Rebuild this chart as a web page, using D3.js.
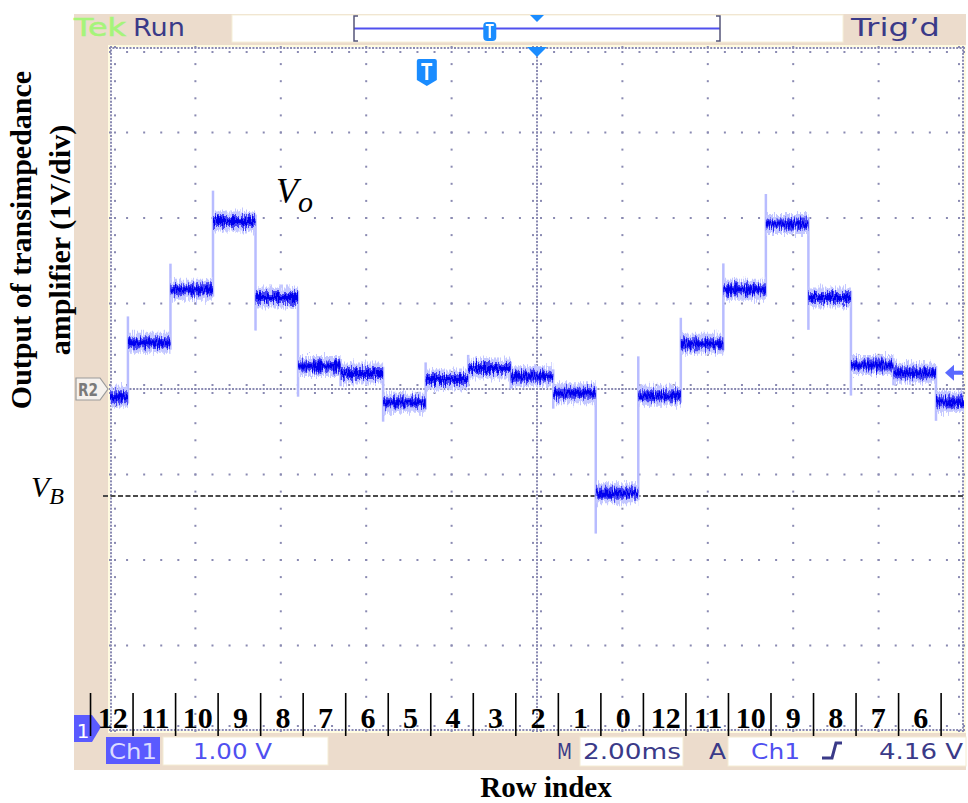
<!DOCTYPE html>
<html><head><meta charset="utf-8">
<script src="https://cdn.jsdelivr.net/npm/d3@7"></script>
<style>html,body{margin:0;padding:0;background:#fff}svg{display:block}</style>
</head><body>
<script>
// ---- acquisition settings ----
const timeDomainMs = [-10, 10];   // 10 div × 2.00 ms/div
const voltDomain = [-4, 4];       // 8 div × 1.00 V/div, relative to the R2 reference
const firstEdgeMs = -9.58;        // first row switch seen on screen
const rowPeriodMs = 0.996;        // one row per ~1 ms
const labelLagMs = 0.12;          // row-index separators trail the edges slightly

// ---- measured row levels (V relative to R2) ----
const rowIndex = [12, 11, 10, 9, 8, 7, 6, 5, 4, 3, 2, 1, 0, 12, 11, 10, 9, 8, 7, 6, 5];
const rowLevelV = [-0.09, 0.54, 1.16, 1.96, 1.07, 0.27, 0.18, -0.16, 0.11, 0.24, 0.15, -0.05,
                   -1.22, -0.08, 0.53, 1.16, 1.93, 1.07, 0.28, 0.19, -0.15];
const rowLabels = ["12", "11", "10", "9", "8", "7", "6", "5", "4", "3", "2", "1", "0",
                   "12", "11", "10", "9", "8", "7", "6"];
const biasLevelV = -1.25;         // V_B
const triggerLevelV = 0.19;       // trigger arrow on the right edge
const triggerMarkMs = -2.58;      // "T" marker position in the record

// ---- readout strings ----
const topLeftBrand = "Tek";
const topLeftState = "Run";
const topRightState = "Trig’d";
const chLabel = "Ch1";
const chScale = "1.00 V";
const timeLabel = "M";
const timeScale = "2.00ms";
const trigLabel = "A";
const trigSource = "Ch1";
const trigLevelText = "4.16 V";

const W = 968, H = 803;
const plot = {left: 110, right: 964, top: 47, bottom: 731};

const svg = d3.select("body").append("svg").attr("width", W).attr("height", H);
svg.append("rect").attr("width", W).attr("height", H).attr("fill", "#fff");

const x = d3.scaleLinear().domain(timeDomainMs).range([plot.left, plot.right]);
const y = d3.scaleLinear().domain(voltDomain).range([plot.bottom, plot.top]);

const defs = svg.append("defs");
defs.append("clipPath").attr("id", "plotClip").append("rect")
  .attr("x", plot.left).attr("y", plot.top)
  .attr("width", plot.right - plot.left).attr("height", plot.bottom - plot.top);

// vertical jitter texture for the noisy trace band
const f = defs.append("filter").attr("id", "jitter")
  .attr("x", "-2%").attr("y", "-200%").attr("width", "104%").attr("height", "500%")
  .attr("color-interpolation-filters", "sRGB");
f.append("feTurbulence").attr("type", "fractalNoise").attr("baseFrequency", "1.1 0.09")
  .attr("numOctaves", 2).attr("seed", 5).attr("result", "noise");
f.append("feColorMatrix").attr("in", "noise").attr("type", "matrix")
  .attr("values", "1 0 0 0 0  0 0 0 0 0.5  0 0 0 0 0  0 0 0 0 1").attr("result", "disp");
f.append("feDisplacementMap").attr("in", "SourceGraphic").attr("in2", "disp")
  .attr("scale", 14).attr("xChannelSelector", "G").attr("yChannelSelector", "R").attr("result", "moved");
f.append("feGaussianBlur").attr("in", "moved").attr("stdDeviation", "0.5 0.7");

// ---- instrument frame ----
const beige = "#ecdccc";
const ink = "#3a3a88";
const uiFont = "'DejaVu Sans', Verdana, sans-serif";
svg.append("rect").attr("x", 74).attr("y", 14).attr("width", 892).attr("height", 756).attr("fill", beige);
svg.append("rect").attr("x", plot.left - 2).attr("y", plot.top - 2)
  .attr("width", plot.right - plot.left + 4).attr("height", plot.bottom - plot.top + 4)
  .attr("fill", "#fffbe0");
svg.append("rect").attr("x", plot.left).attr("y", plot.top)
  .attr("width", plot.right - plot.left).attr("height", plot.bottom - plot.top).attr("fill", "#fff");

// top bar
svg.append("rect").attr("x", 232).attr("y", 15).attr("width", 611).attr("height", 27)
  .attr("fill", "#fff").attr("stroke", "#f6f0d8").attr("stroke-width", 1);
svg.append("text").attr("x", 74).attr("y", 36).attr("font-family", uiFont).attr("font-size", 25)
  .attr("fill", "#a6f47a").attr("stroke", "#a6f47a").attr("stroke-width", 0.6)
  .attr("textLength", 52).attr("lengthAdjust", "spacingAndGlyphs").text(topLeftBrand);
svg.append("text").attr("x", 133).attr("y", 36).attr("font-family", uiFont).attr("font-size", 25)
  .attr("fill", ink).attr("textLength", 52).attr("lengthAdjust", "spacingAndGlyphs").text(topLeftState);
svg.append("text").attr("x", 851).attr("y", 36).attr("font-family", uiFont).attr("font-size", 25)
  .attr("fill", ink).attr("textLength", 89).attr("lengthAdjust", "spacingAndGlyphs").text(topRightState);

// record view bar
const rec = d3.scaleLinear().domain(timeDomainMs).range([354, 720]);
svg.append("line").attr("x1", rec(-10)).attr("x2", rec(10)).attr("y1", 28.5).attr("y2", 28.5)
  .attr("stroke", "#5050ee").attr("stroke-width", 2);
svg.append("path").attr("d", `M${rec(-10) + 4},16 H${rec(-10)} V41 H${rec(-10) + 4}`)
  .attr("fill", "none").attr("stroke", "#55557a").attr("stroke-width", 1.5);
svg.append("path").attr("d", `M${rec(10) - 4},16 H${rec(10)} V41 H${rec(10) - 4}`)
  .attr("fill", "none").attr("stroke", "#55557a").attr("stroke-width", 1.5);
const tx = rec(triggerMarkMs);
svg.append("rect").attr("x", tx - 6.5).attr("y", 22).attr("width", 13).attr("height", 19).attr("rx", 4)
  .attr("fill", "#1a8cff");
svg.append("path").attr("d", `M${tx - 4},25 H${tx + 4} M${tx},25 V38`)
  .attr("stroke", "#fff").attr("stroke-width", 2.2).attr("fill", "none");
svg.append("path").attr("d", `M${x(0) - 7},15 L${x(0) + 7},15 L${x(0)},22 Z`).attr("fill", "#1a8cff");

// ---- graticule ----
const dot = "#8a8ab2";
const g = svg.append("g");
const dots = [];
const majorT = d3.range(-8, 9, 2).filter(t => t !== 0);
const majorV = d3.range(-3, 4, 1).filter(v => v !== 0);
const minorV = d3.range(-4, 4.001, 0.2);
const minorT = d3.range(-10, 10.001, 0.4);
majorT.forEach(t => minorV.forEach(v => dots.push([x(t), y(v)])));
majorV.forEach(v => minorT.forEach(t => dots.push([x(t), y(v)])));
// dense centre cross and border
const denseV = d3.range(-4, 4.001, 0.04);
const denseT = d3.range(-10, 10.001, 0.08);
denseV.forEach(v => dots.push([x(0), y(v)]));
denseT.forEach(t => dots.push([x(t), y(0)]));
denseV.forEach(v => { dots.push([x(-10) + 1, y(v)]); dots.push([x(10) - 1, y(v)]); });
denseT.forEach(t => { dots.push([x(t), y(4) + 1]); dots.push([x(t), y(-4) - 1]); });
// tick marks on centre cross and border
minorV.forEach(v => {
  [-4, 4].forEach(d => dots.push([x(0) + d, y(v)]));
  dots.push([x(-10) + 5, y(v)]); dots.push([x(10) - 5, y(v)]);
});
minorT.forEach(t => {
  [-4, 4].forEach(d => dots.push([x(t), y(0) + d]));
  dots.push([x(t), y(4) + 5]); dots.push([x(t), y(-4) - 5]);
});
g.selectAll("rect.d").data(dots).join("rect").attr("class", "d")
  .attr("x", d => d[0] - 1).attr("y", d => d[1] - 1).attr("width", 2).attr("height", 2)
  .attr("fill", dot);

// ---- V_B dashed level ----
svg.append("line").attr("x1", plot.left - 7).attr("x2", plot.right).attr("y1", y(biasLevelV)).attr("y2", y(biasLevelV))
  .attr("stroke", "#4a4a4a").attr("stroke-width", 2).attr("stroke-dasharray", "5,2.5");

// ---- trace ----
const rows = rowLevelV.map((v, i) => ({
  idx: rowIndex[i], v,
  t0: Math.max(timeDomainMs[0], firstEdgeMs + (i - 1) * rowPeriodMs),
  t1: Math.min(timeDomainMs[1], firstEdgeMs + i * rowPeriodMs)
}));
const edges = rows.slice(1).map((r, i) => ({t: r.t0, from: rows[i].v, to: r.v}));

const trace = svg.append("g").attr("clip-path", "url(#plotClip)");
// switching spikes
trace.selectAll("line.edge").data(edges).join("line").attr("class", "edge")
  .attr("x1", d => x(d.t)).attr("x2", d => x(d.t))
  .attr("y1", d => y(d.from - Math.sign(d.to - d.from) * 0.08))
  .attr("y2", d => y(d.to + Math.sign(d.to - d.from) * (0.12 + 0.3 * Math.abs(d.to - d.from))))
  .attr("stroke", "#b8bcff").attr("stroke-width", 2.5);
const band = trace.append("g").attr("filter", "url(#jitter)");
band.selectAll("line.halo").data(rows).join("line").attr("class", "halo")
  .attr("x1", d => x(d.t0)).attr("x2", d => x(d.t1)).attr("y1", d => y(d.v)).attr("y2", d => y(d.v))
  .attr("stroke", "#c4c8ff").attr("stroke-width", 20);
band.selectAll("line.mid").data(rows).join("line").attr("class", "mid")
  .attr("x1", d => x(d.t0)).attr("x2", d => x(d.t1)).attr("y1", d => y(d.v)).attr("y2", d => y(d.v))
  .attr("stroke", "#4646f4").attr("stroke-width", 11);
band.selectAll("line.core").data(rows).join("line").attr("class", "core")
  .attr("x1", d => x(d.t0)).attr("x2", d => x(d.t1)).attr("y1", d => y(d.v)).attr("y2", d => y(d.v))
  .attr("stroke", "#0000ee").attr("stroke-width", 5);

// ---- markers on the screen ----
// trigger position marker
svg.append("path").attr("d", `M${x(0) - 10},${plot.top} L${x(0) + 10},${plot.top} L${x(0)},${plot.top + 10} Z`)
  .attr("fill", "#1a8cff");
const Tx = x(triggerMarkMs);
svg.append("path").attr("d", `M${Tx - 10},61 Q${Tx - 10},59 ${Tx - 8},59 H${Tx + 8} Q${Tx + 10},59 ${Tx + 10},61 V80 L${Tx},86 L${Tx - 10},80 Z`)
  .attr("fill", "#1a8cff");
svg.append("path").attr("d", `M${Tx - 5.5},64.5 H${Tx + 5.5} M${Tx},64.5 V80`)
  .attr("stroke", "#fff").attr("stroke-width", 3).attr("fill", "none");

// R2 reference marker
const r2y = y(0);
svg.append("path").attr("d", `M76,${r2y - 11} H100 L108,${r2y} L100,${r2y + 11} H76 Z`)
  .attr("fill", "#f6f2ee").attr("stroke", "#9a9a9a").attr("stroke-width", 1.2);
svg.append("text").attr("x", 78).attr("y", r2y + 7).attr("font-family", uiFont).attr("font-size", 18)
  .attr("font-weight", "bold").attr("fill", "#7a7a7a").attr("textLength", 20).attr("lengthAdjust", "spacingAndGlyphs").text("R2");

// trigger level arrow
const ty = y(triggerLevelV);
svg.append("path").attr("d", `M945,${ty} L954,${ty - 8} L954,${ty - 2} H963 V${ty + 2} H954 L954,${ty + 8} Z`)
  .attr("fill", "#5a6aff");

// Ch1 ground marker
svg.append("path").attr("d", `M74,715 H92 L101,727 L92,742 H74 Z`).attr("fill", "#5a5aff");
svg.append("text").attr("x", 83).attr("y", 738).attr("font-family", uiFont).attr("font-size", 20)
  .attr("fill", "#fff").attr("text-anchor", "middle").text("1");

// ---- bottom readouts ----
svg.append("rect").attr("x", 106).attr("y", 737).attr("width", 54).attr("height", 27).attr("fill", "#5a5aff");
svg.append("text").attr("x", 109).attr("y", 759).attr("font-family", uiFont).attr("font-size", 22)
  .attr("fill", "#dcdcff").attr("textLength", 48).attr("lengthAdjust", "spacingAndGlyphs").text(chLabel);
svg.append("rect").attr("x", 163).attr("y", 737).attr("width", 165).attr("height", 28).attr("fill", "#fff")
  .attr("stroke", "#f4ecd4");
svg.append("text").attr("x", 193).attr("y", 759).attr("font-family", uiFont).attr("font-size", 22)
  .attr("fill", "#5050f0").attr("textLength", 79).attr("lengthAdjust", "spacingAndGlyphs").text(chScale);
svg.append("text").attr("x", 557).attr("y", 759).attr("font-family", uiFont).attr("font-size", 22)
  .attr("fill", ink).attr("textLength", 15).attr("lengthAdjust", "spacingAndGlyphs").text(timeLabel);
svg.append("rect").attr("x", 580).attr("y", 737).attr("width", 103).attr("height", 29).attr("fill", "#fff")
  .attr("stroke", "#f4ecd4");
svg.append("text").attr("x", 583).attr("y", 759).attr("font-family", uiFont).attr("font-size", 22)
  .attr("fill", ink).attr("textLength", 98).attr("lengthAdjust", "spacingAndGlyphs").text(timeScale);
svg.append("text").attr("x", 709).attr("y", 759).attr("font-family", uiFont).attr("font-size", 22)
  .attr("fill", ink).attr("textLength", 17).attr("lengthAdjust", "spacingAndGlyphs").text(trigLabel);
svg.append("rect").attr("x", 728).attr("y", 737).attr("width", 238).attr("height", 29).attr("fill", "#fff")
  .attr("stroke", "#f4ecd4");
svg.append("text").attr("x", 751).attr("y", 759).attr("font-family", uiFont).attr("font-size", 22)
  .attr("fill", "#5050f0").attr("textLength", 49).attr("lengthAdjust", "spacingAndGlyphs").text(trigSource);
svg.append("path").attr("d", "M822,758 H832 L836,743 H842").attr("fill", "none")
  .attr("stroke", ink).attr("stroke-width", 3);
svg.append("text").attr("x", 879).attr("y", 759).attr("font-family", uiFont).attr("font-size", 22)
  .attr("fill", ink).attr("textLength", 84).attr("lengthAdjust", "spacingAndGlyphs").text(trigLevelText);

// ---- row index annotation ----
const serif = "'Liberation Serif', 'Times New Roman', serif";
const seps = d3.range(rowLabels.length + 1).map(k => firstEdgeMs + (k - 1) * rowPeriodMs + labelLagMs);
svg.selectAll("line.sep").data(seps).join("line").attr("class", "sep")
  .attr("x1", d => x(d)).attr("x2", d => x(d)).attr("y1", plot.bottom - 38).attr("y2", plot.bottom + 5)
  .attr("stroke", "#000").attr("stroke-width", 1.6);
svg.selectAll("text.row").data(rowLabels).join("text").attr("class", "row")
  .attr("x", (d, i) => (x(seps[i]) + x(seps[i + 1])) / 2 + 1).attr("y", plot.bottom - 3)
  .attr("text-anchor", "middle").attr("font-family", serif).attr("font-weight", "bold")
  .attr("font-size", 30).attr("fill", "#000").text(d => d);

// ---- titles and labels ----
svg.append("text").attr("x", 546).attr("y", 797).attr("text-anchor", "middle")
  .attr("font-family", serif).attr("font-weight", "bold").attr("font-size", 29).text("Row index");
const yt = svg.append("g").attr("transform", "translate(0,240) rotate(-90)");
yt.append("text").attr("x", 0).attr("y", 31).attr("text-anchor", "middle")
  .attr("font-family", serif).attr("font-weight", "bold").attr("font-size", 30).text("Output of transimpedance");
yt.append("text").attr("x", 0).attr("y", 70).attr("text-anchor", "middle")
  .attr("font-family", serif).attr("font-weight", "bold").attr("font-size", 30).text("amplifier (1V/div)");

const vo = svg.append("text").attr("x", 276).attr("y", 203).attr("font-family", serif)
  .attr("font-style", "italic").attr("fill", "#000");
vo.append("tspan").attr("font-size", 36).text("V");
vo.append("tspan").attr("font-size", 30).attr("dy", 9).text("o");
const vb = svg.append("text").attr("x", 31).attr("y", 497).attr("font-family", serif)
  .attr("font-style", "italic").attr("fill", "#000");
vb.append("tspan").attr("font-size", 30).text("V");
vb.append("tspan").attr("font-size", 24).attr("dy", 7).text("B");
</script>
</body></html>
